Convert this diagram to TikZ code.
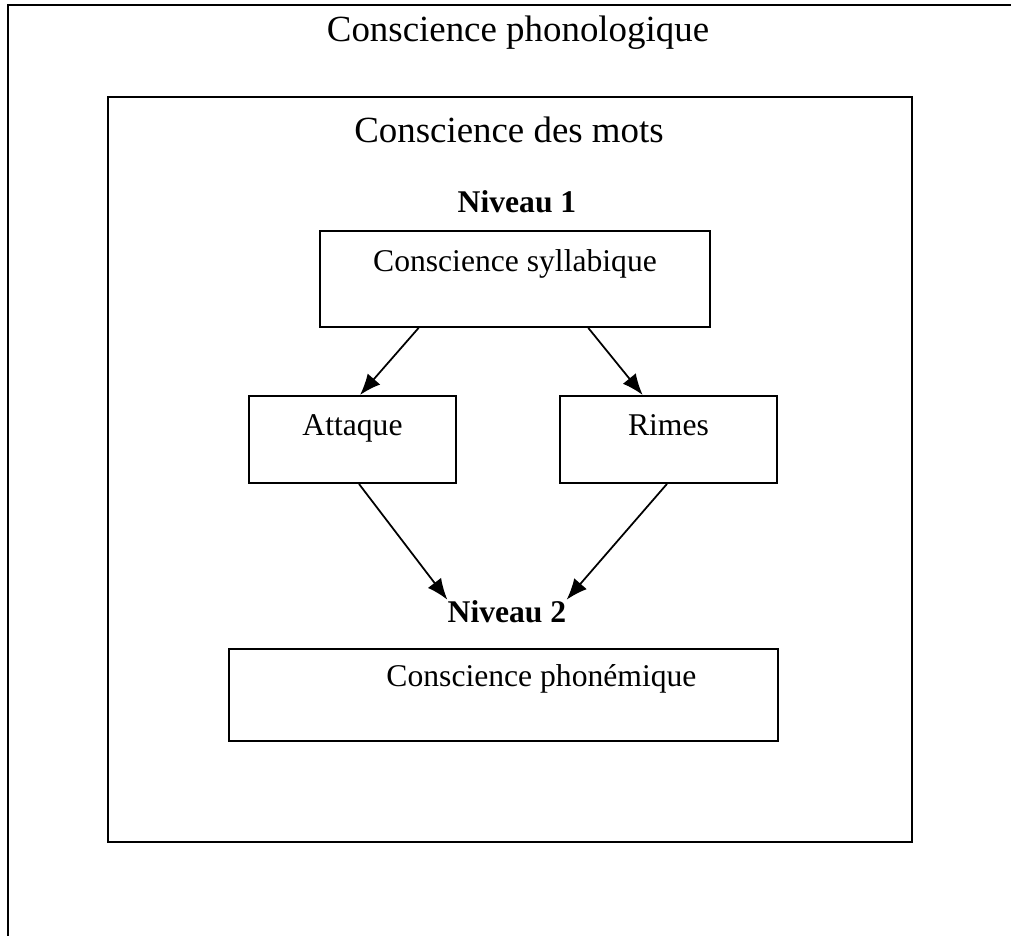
\documentclass[tikz,border=0pt]{standalone}
\usepackage{fontspec}
\setmainfont{Liberation Serif}
\usetikzlibrary{arrows.meta,calc}
\tikzset{
  boite/.style={draw, line width=1.1pt, inner sep=0pt, anchor=north, font=\fontsize{18}{21}\selectfont},
  niveau/.style={inner sep=0pt, anchor=base, font=\fontsize{18}{21}\selectfont\bfseries},
  titre/.style={inner sep=0pt, anchor=base, font=\fontsize{21}{25}\selectfont},
  fleche/.style={-{Latex[length=12pt,width=9.5pt]}, line width=1pt}
}
\begin{document}
\begin{tikzpicture}[x=0.02cm,y=-0.02cm]
    \useasboundingbox (0,0) rectangle (1011,936);
    \draw[line width=1.3pt] (8,5) rectangle (1040,960);
    \draw[line width=1.2pt] (108,97) rectangle (912,842);
    \node[titre] (phono) at (518,42) {Conscience phonologique};
    \node[titre] (mots) at (509,143) {Conscience des mots};
    \node[niveau] (niv1) at (517,213) {Niveau 1};
    \node[boite, minimum width=7.8cm, text height=0.82cm, text depth=1.1cm] (syll) at (515,230) {Conscience syllabique};
    \node[boite, minimum width=4.14cm, text height=0.8cm, text depth=0.94cm] (attaque) at (352.5,395) {Attaque};
    \node[boite, minimum width=4.34cm, text height=0.8cm, text depth=0.94cm] (rimes) at (668.5,395) {Rimes};
    \node[niveau] (niv2) at (507,622) {Niveau 2};
    \node[boite, minimum width=10.98cm, text height=0.76cm, text depth=1.08cm] (phonem) at (503.5,648) {\hspace*{1.52cm}Conscience phonémique};
    \draw[fleche] ($(syll.south west)!0.254!(syll.south east)$) -- ($(attaque.north west)!0.536!(attaque.north east)$);
    \draw[fleche] ($(syll.south west)!0.687!(syll.south east)$) -- ($(rimes.north west)!0.382!(rimes.north east)$);
    \draw[fleche] ($(attaque.south west)!0.531!(attaque.south east)$) -- (niv2.north west);
    \draw[fleche] ($(rimes.south west)!0.493!(rimes.south east)$) -- (niv2.north east);
\end{tikzpicture}
\end{document}
